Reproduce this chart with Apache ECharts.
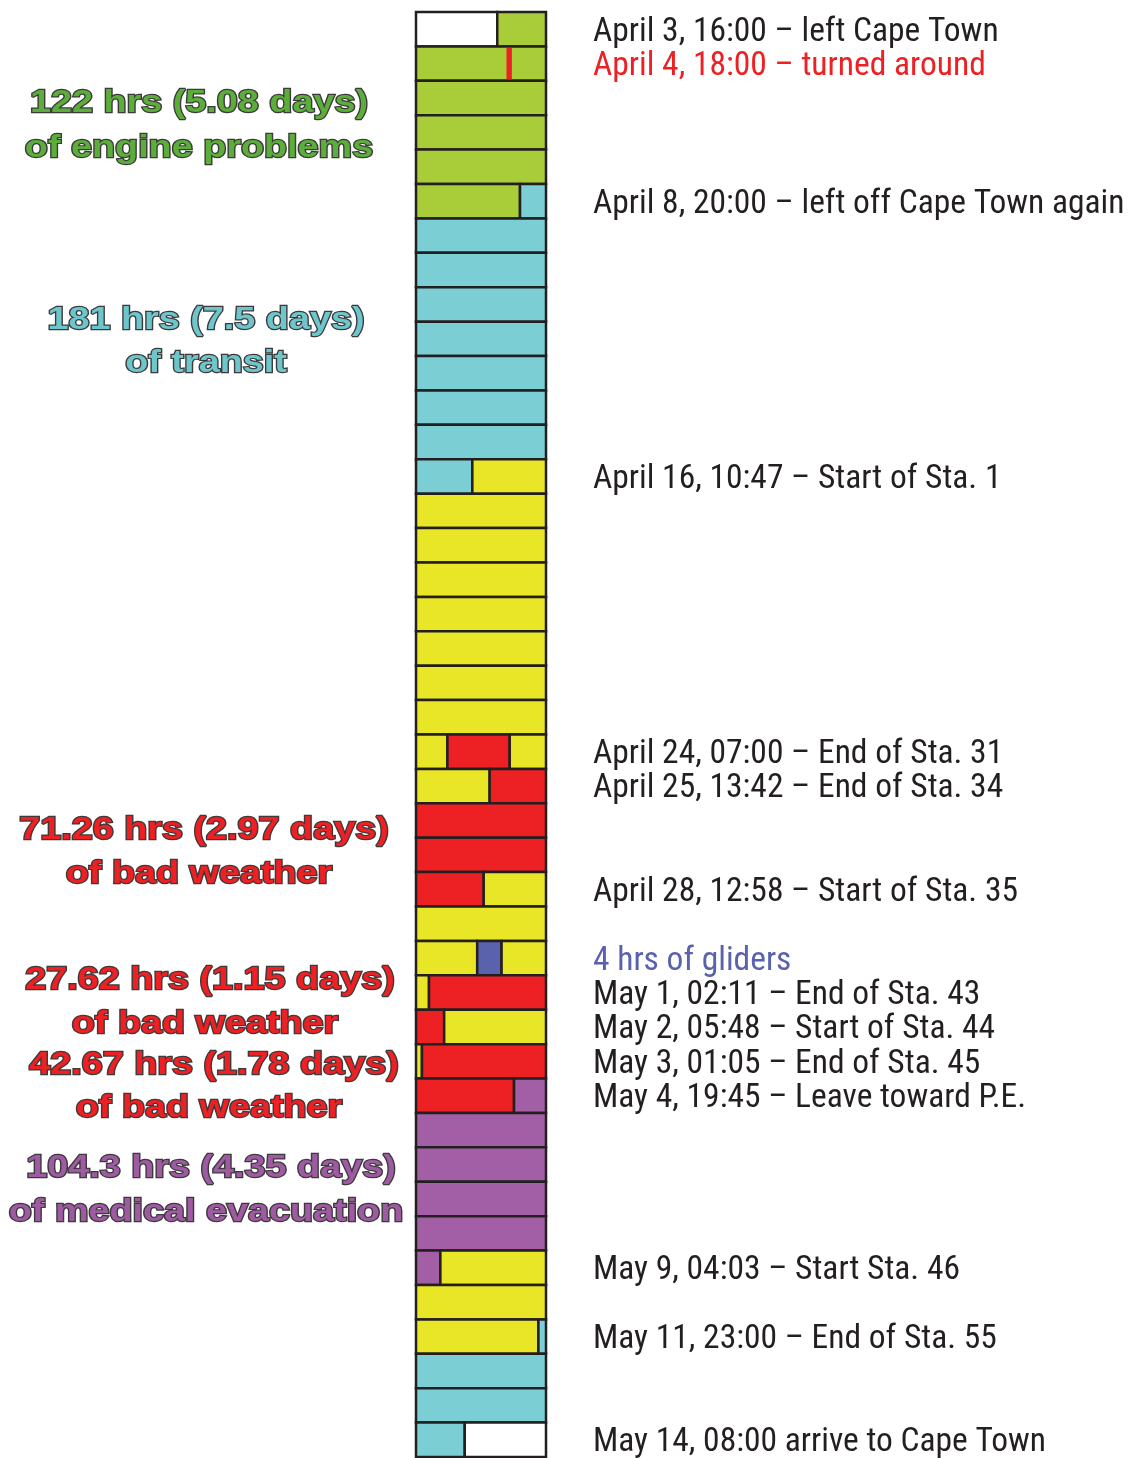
<!DOCTYPE html>
<html>
<head>
<meta charset="utf-8">
<script src="https://cdn.jsdelivr.net/npm/echarts@6/dist/echarts.min.js"></script>
<style>
  html, body { margin: 0; padding: 0; background: #fff; }
  #chart { width: 1129px; height: 1458px; }
</style>
</head>
<body>
<div id="chart"></div>
<script>
// one row per day, April 3 .. May 14
const days = [
  'Apr 3', 'Apr 4', 'Apr 5', 'Apr 6', 'Apr 7', 'Apr 8', 'Apr 9', 'Apr 10', 'Apr 11', 'Apr 12',
  'Apr 13', 'Apr 14', 'Apr 15', 'Apr 16', 'Apr 17', 'Apr 18', 'Apr 19', 'Apr 20', 'Apr 21', 'Apr 22',
  'Apr 23', 'Apr 24', 'Apr 25', 'Apr 26', 'Apr 27', 'Apr 28', 'Apr 29', 'Apr 30', 'May 1', 'May 2',
  'May 3', 'May 4', 'May 5', 'May 6', 'May 7', 'May 8', 'May 9', 'May 10', 'May 11', 'May 12',
  'May 13', 'May 14'
]

// what happened in each day, in order (hours 0..24)
const rowKinds = [
  ['none', 'engine'], ['engine'], ['engine'], ['engine'], ['engine'], ['engine', 'transit'],
  ['transit'], ['transit'], ['transit'], ['transit'], ['transit'], ['transit'], ['transit'],
  ['transit', 'station'], ['station'], ['station'], ['station'], ['station'], ['station'], ['station'], ['station'],
  ['station', 'weather', 'station'], ['station', 'weather'], ['weather'], ['weather'], ['weather', 'station'],
  ['station'], ['station', 'gliders', 'station'], ['station', 'weather'], ['weather', 'station'],
  ['station', 'weather'], ['weather', 'medical'], ['medical'], ['medical'], ['medical'], ['medical'],
  ['medical', 'station'], ['station'], ['station', 'transit'], ['transit'], ['transit'], ['transit', 'none']
]
// hour where one part ends and the next starts
const rowBreaks = [
  [15.0], [], [], [], [], [19.2],
  [], [], [], [], [], [], [],
  [10.4], [], [], [], [], [], [], [],
  [5.8, 17.3], [13.6], [], [], [12.5],
  [], [11.3, 15.8], [2.4], [5.2],
  [1.1], [18.1], [], [], [], [],
  [4.5], [], [22.6], [], [], [9.0]
]
// red tick: April 4, turned around
const turnRow = 1
const turnHours = [16.7, 17.7]

const kindColors = {
  none: '#ffffff',
  engine: '#a8cd39',
  transit: '#7bcfd4',
  station: '#e9e627',
  weather: '#ed2024',
  gliders: '#5b62ad',
  medical: '#a25fa6',
  mark: '#ed2024'
}

// events written to the right of the days
const eventLabels = {
  0: 'April 3, 16:00 – left Cape Town',
  1: '{r|April 4, 18:00 – turned around}',
  5: 'April 8, 20:00 – left off Cape Town again',
  13: 'April 16, 10:47 – Start of Sta. 1',
  21: 'April 24, 07:00 – End of Sta. 31',
  22: 'April 25, 13:42 – End of Sta. 34',
  25: 'April 28, 12:58 – Start of Sta. 35',
  27: '{b|4 hrs of gliders}',
  28: 'May 1, 02:11 – End of Sta. 43',
  29: 'May 2, 05:48 – Start of Sta. 44',
  30: 'May 3, 01:05 – End of Sta. 45',
  31: 'May 4, 19:45 – Leave toward P.E.',
  36: 'May 9, 04:03 – Start Sta. 46',
  38: 'May 11, 23:00 – End of Sta. 55',
  41: 'May 14, 08:00 arrive to Cape Town'
}

// totals on the left
const summaryLines = [
  ['122 hrs (5.08 days)', 'of engine problems'],
  ['181 hrs (7.5 days)', 'of transit'],
  ['71.26 hrs (2.97 days)', 'of bad weather'],
  ['27.62 hrs (1.15 days)', 'of bad weather'],
  ['42.67 hrs (1.78 days)', 'of bad weather'],
  ['104.3 hrs (4.35 days)', 'of medical evacuation']
]
const summaryColors = ['#5cae3b', '#6cc6cb', '#ed2024', '#ed2024', '#ed2024', '#9e5aa2']

// build segments [row, start, end, kind]
let segments = []
rowKinds.forEach((kinds, row) => {
  const edges = [0].concat(rowBreaks[row], [24])
  kinds.forEach((k, i) => {
    segments.push([row, edges[i], edges[i + 1], k])
  })
})
segments.push([turnRow, turnHours[0], turnHours[1], 'mark'])

const myChart = echarts.init(document.getElementById('chart'))

// left summary positions (layout only)
const summaryPos = [
  [199, 103, 199, 148],
  [206, 320, 206, 363],
  [204, 830, 199, 874],
  [210, 980, 205, 1024],
  [214, 1065, 209, 1108],
  [211, 1168, 206, 1212]
]
let graphics = []
summaryLines.forEach((lines, i) => {
  lines.forEach((t, j) => {
    graphics.push({
      type: 'text',
      x: summaryPos[i][j * 2],
      y: summaryPos[i][j * 2 + 1],
      scaleX: 1.18,
      z: 10,
      style: {
        text: t,
        fill: summaryColors[i],
        stroke: '#3d3a3b',
        lineWidth: 2.4,
        strokeFirst: true,
        fontSize: 32,
        fontWeight: 'bold',
        fontFamily: 'Liberation Sans, Arial, sans-serif',
        align: 'center',
        verticalAlign: 'middle'
      }
    })
  })
})

const labelFont = 'Roboto Condensed, Liberation Sans, sans-serif'
const option = {
  animation: false,
  grid: {
    left: 416,
    width: 130,
    top: 12,
    height: 1445,
    containLabel: false,
    outerBoundsMode: 'none'
  },
  xAxis: {
    type: 'value',
    min: 0,
    max: 24,
    show: false
  },
  yAxis: {
    type: 'category',
    data: days,
    inverse: true,
    position: 'right',
    axisLine: { show: false },
    axisTick: { show: false },
    splitLine: { show: false },
    axisLabel: {
      interval: 0,
      margin: 47,
      padding: [6, 0, 0, 0],
      fontSize: 33.5,
      fontFamily: labelFont,
      color: '#231f20',
      formatter: function (value, idx) {
        return eventLabels[idx] || ''
      },
      rich: {
        r: { color: '#ed2024', fontSize: 33.5, fontFamily: labelFont },
        b: { color: '#5b62ad', fontSize: 33.5, fontFamily: labelFont }
      }
    }
  },
  series: [
    {
      type: 'custom',
      encode: { x: [1, 2], y: 0 },
      data: segments,
      renderItem: function (params, api) {
        const row = api.value(0)
        const kind = segments[params.dataIndex][3]
        const p0 = api.coord([api.value(1), row])
        const p1 = api.coord([api.value(2), row])
        const h = api.size([0, 1])[1]
        if (kind === 'mark') {
          return {
            type: 'rect',
            shape: { x: p0[0], y: p0[1] - h / 2 + 1.5, width: p1[0] - p0[0], height: h - 3 },
            style: { fill: kindColors.mark }
          }
        }
        return {
          type: 'rect',
          shape: { x: p0[0], y: p0[1] - h / 2, width: p1[0] - p0[0], height: h },
          style: { fill: kindColors[kind], stroke: '#231f20', lineWidth: 2.5 }
        }
      }
    }
  ],
  graphic: graphics
}
myChart.setOption(option)
window.addEventListener('resize', function () {
  myChart.resize()
})
</script>
</body>
</html>
